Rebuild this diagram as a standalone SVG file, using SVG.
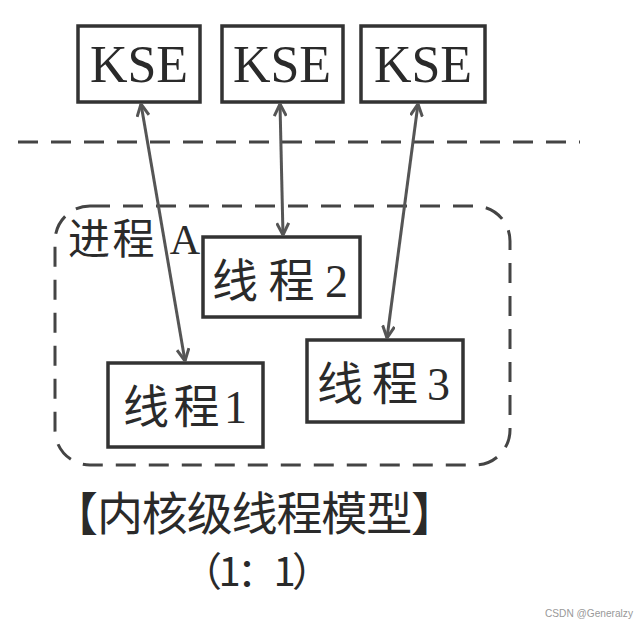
<svg xmlns="http://www.w3.org/2000/svg" width="642" height="624" viewBox="0 0 642 624">
<defs>
<style>
.box{fill:#fff;stroke:#333;stroke-width:3.5}
.kse{font-family:"Liberation Serif",serif;font-size:52px;fill:#2a2a2a;text-anchor:middle}
.cjk{font-family:"Liberation Serif","Noto Sans CJK SC",serif;fill:#2a2a2a}
.conn{stroke:#555;stroke-width:3;fill:none}
.dash{stroke:#444;stroke-width:3;fill:none;stroke-dasharray:20 13}
</style>
<marker id="ah" viewBox="0 0 14 14" refX="13" refY="7" markerWidth="14" markerHeight="14" markerUnits="userSpaceOnUse" orient="auto-start-reverse">
<path d="M1,1 L13,7 L1,13" fill="none" stroke="#555" stroke-width="3" stroke-linejoin="miter"/>
</marker>
</defs>
<rect width="642" height="624" fill="#fff"/>
<line class="dash" x1="18" y1="142" x2="580" y2="142"/>
<rect id="process" class="dash" x="55" y="206" width="455" height="259" rx="35" ry="35"/>
<text class="cjk" x="68" y="254" font-size="42" textLength="132" lengthAdjust="spacing">进程 A</text>
<g id="kse1"><rect class="box" x="78" y="26" width="122" height="76"/><text class="kse" x="139" y="82">KSE</text></g>
<g id="kse2"><rect class="box" x="222" y="26" width="121" height="76"/><text class="kse" x="282" y="82">KSE</text></g>
<g id="kse3"><rect class="box" x="361" y="26" width="124" height="76"/><text class="kse" x="423" y="82">KSE</text></g>
<g id="t2"><rect class="box" x="203" y="237" width="157" height="80"/><text class="cjk" x="212" y="297" font-size="46" textLength="136" lengthAdjust="spacing">线程2</text></g>
<g id="t1"><rect class="box" x="108" y="363" width="155" height="84"/><text class="cjk" x="123" y="423" font-size="46" textLength="124" lengthAdjust="spacing">线程1</text></g>
<g id="t3"><rect class="box" x="307" y="340" width="156" height="82"/><text class="cjk" x="317" y="400" font-size="46" textLength="133" lengthAdjust="spacing">线程3</text></g>
<g id="connectors">
<line class="conn" x1="141" y1="104" x2="185" y2="361" marker-start="url(#ah)" marker-end="url(#ah)"/>
<line class="conn" x1="280" y1="104" x2="283" y2="235" marker-start="url(#ah)" marker-end="url(#ah)"/>
<line class="conn" x1="418" y1="104" x2="387" y2="338" marker-start="url(#ah)" marker-end="url(#ah)"/>
</g>
<text class="cjk" x="52" y="530" font-size="46" textLength="405" lengthAdjust="spacing">【内核级线程模型】</text>
<text x="182" y="586" font-family="Noto Sans CJK SC,sans-serif" font-size="40" fill="#2a2a2a" textLength="150" lengthAdjust="spacing">（1：1）</text>
<text x="545" y="617" font-family="Liberation Sans,sans-serif" font-size="11" fill="#999" textLength="88" lengthAdjust="spacingAndGlyphs">CSDN @Generalzy</text>
</svg>
